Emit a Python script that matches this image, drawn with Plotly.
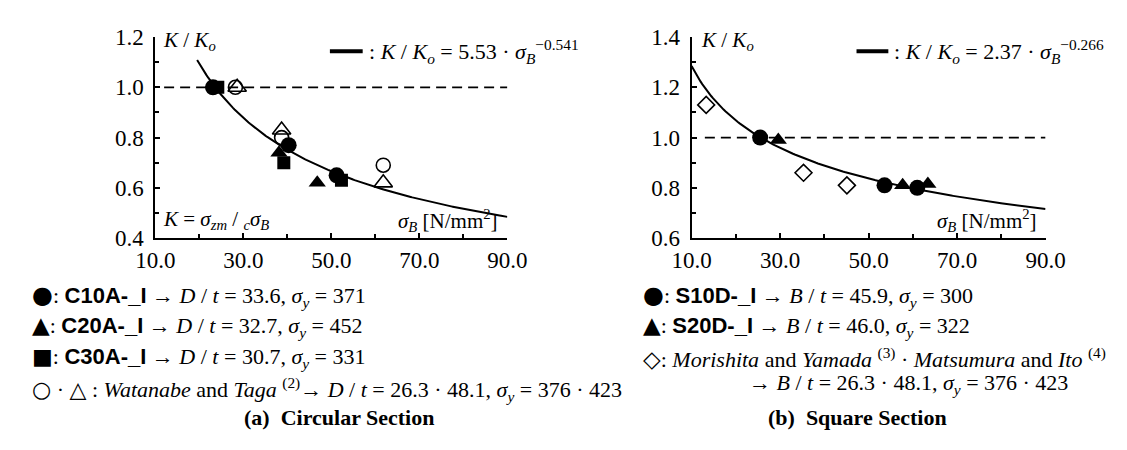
import numpy as np
import plotly.graph_objects as go

W, H = 1127, 450

# ---------------- data ----------------
# (a) Circular section
c10a_x = [23.1, 40.3, 51.2]
c10a_y = [1.00, 0.77, 0.65]
c20a_x = [38.1, 46.8]
c20a_y = [0.74, 0.62]
c30a_x = [24.2, 39.2, 52.3]
c30a_y = [1.00, 0.70, 0.63]
wt_circle_x = [28.2, 38.7, 61.8]
wt_circle_y = [1.00, 0.80, 0.69]
wt_tri_x = [28.6, 38.7, 61.8]
wt_tri_y = [1.00, 0.83, 0.62]
fit_a = (5.53, -0.541)
fit_a_range = (19.5, 90.0)

# (b) Square section
s10d_x = [25.5, 53.6, 61.0]
s10d_y = [1.00, 0.81, 0.80]
s20d_x = [29.6, 57.7, 63.4]
s20d_y = [0.99, 0.81, 0.815]
mory_x = [13.3, 35.3, 45.1]
mory_y = [1.13, 0.86, 0.81]
fit_b = (2.37, -0.266)
fit_b_range = (10.0, 90.0)

ref_a_x = [12.0, 90.0]
ref_b_x = [13.0, 90.0]
ref_y = [1.0, 1.0]

x_ticks = [10, 30, 50, 70, 90]
y_ticks_a = [0.4, 0.6, 0.8, 1.0, 1.2]
y_ticks_b = [0.6, 0.8, 1.0, 1.2, 1.4]

SERIF = "Liberation Serif, Times New Roman, serif"


def px(x):
    return x / W


def py(y):
    return 1 - y / H


fig = go.Figure()


def mk(x, y, symbol, size, ax, lw=0):
    m = dict(symbol=symbol, size=size, color="black")
    if lw:
        m["line"] = dict(color="black", width=lw)
    fig.add_trace(go.Scatter(x=x, y=y, mode="markers", marker=m,
                             xaxis=ax[0], yaxis=ax[1], showlegend=False,
                             hoverinfo="skip"))


def curve(coef, rng, ax):
    xs = np.linspace(rng[0], rng[1], 200)
    ys = coef[0] * xs ** coef[1]
    fig.add_trace(go.Scatter(x=xs, y=ys, mode="lines",
                             line=dict(color="black", width=2),
                             xaxis=ax[0], yaxis=ax[1], showlegend=False,
                             hoverinfo="skip"))


def dashed(xr, ax):
    fig.add_trace(go.Scatter(x=xr, y=ref_y, mode="lines",
                             line=dict(color="black", width=1.8, dash="10px,6px"),
                             xaxis=ax[0], yaxis=ax[1], showlegend=False,
                             hoverinfo="skip"))


A = ("x", "y")
B = ("x2", "y2")

dashed(ref_a_x, A)
curve(fit_a, fit_a_range, A)
mk(wt_circle_x, wt_circle_y, "circle-open", 14, A, lw=1.6)
mk(wt_tri_x, wt_tri_y, "triangle-up-open", 16, A, lw=1.6)
mk(c30a_x, c30a_y, "square", 13, A)
mk(c20a_x, c20a_y, "triangle-up", 15, A)
mk(c10a_x, c10a_y, "circle", 16, A)

dashed(ref_b_x, B)
curve(fit_b, fit_b_range, B)
mk(mory_x, mory_y, "diamond-open", 13, B, lw=1.6)
mk(s20d_x, s20d_y, "triangle-up", 15, B)
mk(s10d_x, s10d_y, "circle", 16, B)

ydom = [py(231), py(18)]
xa_dom = [px(132), px(497)]
xb_dom = [px(688), px(1055)]

axis_common = dict(showline=True, linecolor="black", linewidth=2, mirror=False,
                   showgrid=False, zeroline=False, ticks="inside", ticklen=5,
                   tickwidth=1.5, tickcolor="black",
                   tickfont=dict(family=SERIF, size=23, color="black"),
                   tickformat=".1f")

fig.update_layout(
    width=W, height=H,
    margin=dict(l=0, r=0, t=0, b=0),
    paper_bgcolor="white", plot_bgcolor="white",
    showlegend=False,
    font=dict(family=SERIF, color="black"),
    xaxis=dict(domain=xa_dom, range=[10, 90], tickvals=x_ticks, anchor="y",
               minor=dict(dtick=10, ticks="inside", ticklen=4, tickcolor="black"),
               **axis_common),
    yaxis=dict(domain=ydom, range=[0.4, 1.2], tickvals=y_ticks_a, anchor="x",
               ticklabelstandoff=5,
               minor=dict(dtick=0.1, ticks="inside", ticklen=4, tickcolor="black"),
               **axis_common),
    xaxis2=dict(domain=xb_dom, range=[10, 90], tickvals=x_ticks, anchor="y2",
                minor=dict(dtick=10, ticks="inside", ticklen=4, tickcolor="black"),
                **axis_common),
    yaxis2=dict(domain=ydom, range=[0.6, 1.4], tickvals=y_ticks_b, anchor="x2",
                ticklabelstandoff=5,
                minor=dict(dtick=0.1, ticks="inside", ticklen=4, tickcolor="black"),
                **axis_common),
)

ann = []


def text(x, y, s, size=22, anchor="left"):
    ann.append(dict(x=px(x), y=py(y), xref="paper", yref="paper", text=s,
                    showarrow=False, xanchor=anchor, yanchor="middle",
                    font=dict(family=SERIF, size=size, color="black")))


KK = "<i>K</i> / <i>K<sub>o</sub></i>"
SB = "<i>σ<sub>B</sub></i>"

# inside plot texts
text(138, 22, KK, 21)
text(696, 22, KK, 21)
text(351, 33, ": " + KK + " = 5.53 · " + SB + "<sup>−0.541</sup>", 22)
text(896, 33, ": " + KK + " = 2.37 · " + SB + "<sup>−0.266</sup>", 22)
text(138, 212, "<i>K</i> = <i>σ<sub>zm</sub></i> / <sub><i>c</i></sub>" + SB, 21)
text(489, 212, SB + " [N/mm<sup>2</sup>]", 21, "right")
text(1048, 212, SB + " [N/mm<sup>2</sup>]", 21, "right")

# legend-swatch for the fitted curve
fig.add_shape(type="line", xref="paper", yref="paper", x0=px(313), x1=px(347),
              y0=py(33), y1=py(33), line=dict(color="black", width=4))
fig.add_shape(type="line", xref="paper", yref="paper", x0=px(859), x1=px(892),
              y0=py(33), y1=py(33), line=dict(color="black", width=4))


def bs(s):
    return '<span style="font-family:Liberation Sans"><b>' + s + "</b></span>"


def glyph(g, size):
    return '<span style="font-family:DejaVu Sans;font-size:' + str(size) + 'px">' + g + "</span>"


DT = "<i>D</i> / <i>t</i>"
BT = "<i>B</i> / <i>t</i>"
SY = "<i>σ<sub>y</sub></i>"

text(2, 292, glyph("●", 24) + ": " + bs("C10A-_I") + " → " + DT + " = 33.6, " + SY + " = 371")
text(2, 325, glyph("▲", 23) + ": " + bs("C20A-_I") + " → " + DT + " = 32.7, " + SY + " = 452")
text(2, 358, glyph("■", 22) + ": " + bs("C30A-_I") + " → " + DT + " = 30.7, " + SY + " = 331")
text(2, 391, glyph("○", 22) + " · " + glyph("△", 22) + " : <i>Watanabe</i> and <i>Taga</i> <sup>(2)</sup>→ " + DT +
     " = 26.3 · 48.1, " + SY + " = 376 · 423")
text(322, 421, "<b>(a)  Circular Section</b>", 22, "center")

text(636, 292, glyph("●", 24) + ": " + bs("S10D-_I") + " → " + BT + " = 45.9, " + SY + " = 300")
text(636, 325, glyph("▲", 23) + ": " + bs("S20D-_I") + " → " + BT + " = 46.0, " + SY + " = 322")
text(636, 358, glyph("◇", 23) + ": <i>Morishita</i> and <i>Yamada</i> <sup>(3)</sup> · <i>Matsumura</i> and <i>Ito</i> <sup>(4)</sup>")
text(745, 385, "→ " + BT + " = 26.3 · 48.1, " + SY + " = 376 · 423")
text(860, 421, "<b>(b)  Square Section</b>", 22, "center")

fig.update_layout(annotations=ann)

fig.write_html("out.html")
